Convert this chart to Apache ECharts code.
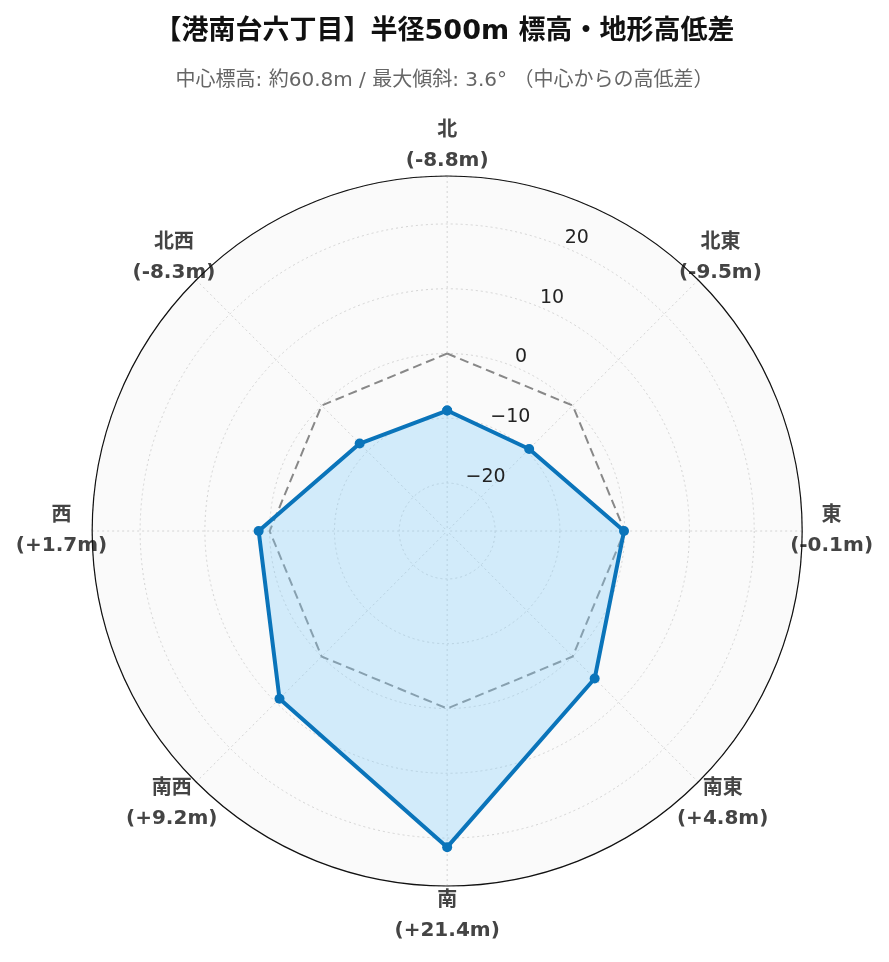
<!DOCTYPE html>
<html><head><meta charset="utf-8">
<script src="https://cdn.jsdelivr.net/npm/echarts@6/dist/echarts.min.js"></script>
<style>html,body{margin:0;padding:0;background:#fff}#c{width:889px;height:962px}</style>
</head><body><div id="c"></div>
<script>
const directions = ['北', '北東', '東', '南東', '南', '南西', '西', '北西'];
const directionAngles = [0, 45, 90, 135, 180, 225, 270, 315];
const elevDiff = [-8.8, -9.5, -0.1, 4.8, 21.4, 9.2, 1.7, -8.3];
const referenceLevel = [0, 0, 0, 0, 0, 0, 0, 0];
const radialTicks = [-20, -10, 0, 10, 20];
const radialRange = [-27.4, 27.4];
const titleText = '【港南台六丁目】半径500m 標高・地形高低差';
const subtitleText = '中心標高: 約60.8m / 最大傾斜: 3.6° （中心からの高低差）';

const font = "'DejaVu Sans', 'Noto Sans CJK JP', sans-serif";

function fmtDiff(v) {
  return '(' + (v > 0 ? '+' : (v < 0 ? '-' : '')) + Math.abs(v).toFixed(1) + 'm)';
}
const labelMap = {};
directions.forEach((d, i) => { labelMap[d] = '{t|' + d + '}\n{t|' + fmtDiff(elevDiff[i]) + '}'; });

// per-label padding [top, right, bottom, left] so each two-line label sits centred on its spoke
const labelPadding = {
  '北': [0, 0, 30, 0], '北東': [0, 0, 13, 2], '東': [0, 0, 0, 18], '南東': [13, 0, 0, 0],
  '南': [30, 0, 0, 0], '南西': [13, 0, 0, 0], '西': [0, 15, 0, 0], '北西': [0, 2, 13, 0]
};

// closed ring: every direction, then back to the first one (at 360°)
function closed(vals) {
  const arr = directionAngles.map((a, i) => [vals[i], a]);
  arr.push([vals[0], 360]);
  return arr;
}

const center = ['50.3%', '55.2%'];
const radius = 355;

const hiddenRadius = pi => ({
  polarIndex: pi, type: 'value', min: radialRange[0], max: radialRange[1], splitNumber: 5,
  axisLine: {show: false}, axisTick: {show: false}, axisLabel: {show: false},
  splitLine: {show: false}, splitArea: {show: false}
});

const chart = echarts.init(document.getElementById('c'), null, {renderer: 'canvas'});
chart.setOption({
  backgroundColor: '#ffffff',
  animation: false,
  title: [
    {text: titleText, left: 'center', top: 13,
     textStyle: {fontFamily: font, fontSize: 27, fontWeight: 'bold', color: '#111'}},
    {text: subtitleText, left: 'center', top: 66,
     textStyle: {fontFamily: font, fontSize: 20, fontWeight: 'normal', color: '#666'}}
  ],
  polar: [
    {center: center, radius: radius},
    {center: center, radius: radius},
    {center: center, radius: radius},
    {center: center, radius: radius}
  ],
  angleAxis: [
    {
      polarIndex: 0, type: 'category', boundaryGap: false,
      data: directions.map(d => ({value: d, textStyle: {padding: labelPadding[d]}})),
      startAngle: 90, clockwise: true,
      axisLine: {show: false},
      axisTick: {show: false},
      splitLine: {show: true, lineStyle: {color: '#d4d4d4', type: [2, 3], width: 1}},
      splitArea: {show: false},
      axisLabel: {
        show: true, margin: -30,
        fontFamily: font, fontSize: 20, fontWeight: 'bold', color: '#444',
        formatter: v => labelMap[v],
        rich: {t: {align: 'center', lineHeight: 30, fontFamily: font, fontSize: 20, fontWeight: 'bold', color: '#444'}}
      },
      z: 2
    },
    {
      polarIndex: 1, type: 'value', min: 0, max: 360, interval: 45,
      startAngle: 67.5, clockwise: true,
      axisLine: {show: false},
      axisTick: {show: false}, axisLabel: {show: false},
      splitLine: {show: false},
      splitArea: {show: true, areaStyle: {color: ['#fafafa']}},
      z: 0
    },
    {
      polarIndex: 2, type: 'value', min: 0, max: 360, interval: 45,
      startAngle: 90, clockwise: true,
      axisLine: {show: true, lineStyle: {color: '#111', width: 1.2}},
      axisTick: {show: false}, axisLabel: {show: false},
      splitLine: {show: false}, splitArea: {show: false},
      z: 6
    },
    {
      polarIndex: 3, type: 'value', min: 0, max: 360, interval: 45,
      startAngle: 67.5, clockwise: true, show: false
    }
  ],
  radiusAxis: [
    hiddenRadius(0),
    {
      polarIndex: 1, type: 'value', min: radialRange[0], max: radialRange[1], splitNumber: 5,
      axisLine: {show: false}, axisTick: {show: false}, axisLabel: {show: false},
      splitLine: {show: true, lineStyle: {color: '#d4d4d4', type: [2, 3], width: 1}},
      splitArea: {show: false},
      z: 1
    },
    hiddenRadius(2),
    {
      polarIndex: 3, type: 'value', min: radialRange[0], max: radialRange[1], splitNumber: 5,
      axisLine: {show: false}, axisTick: {show: false},
      splitLine: {show: false}, splitArea: {show: false},
      axisLabel: {
        show: true, margin: 0, align: 'left', verticalAlign: 'bottom',
        fontFamily: font, fontSize: 19, color: '#222',
        formatter: v => radialTicks.indexOf(Math.round(v * 10) / 10) >= 0 ? String(v).replace('-', '\u2212') : ''
      },
      z: 8
    }
  ],
  series: [
    {
      type: 'line', coordinateSystem: 'polar', polarIndex: 2, clip: false,
      data: closed(elevDiff),
      symbol: 'circle', symbolSize: 10, showSymbol: true,
      lineStyle: {color: '#0a74ba', width: 4},
      itemStyle: {color: '#0a74ba', borderWidth: 0},
      areaStyle: {color: 'rgba(135,206,250,0.35)', opacity: 1, origin: 'start'},
      z: 4
    },
    {
      type: 'line', coordinateSystem: 'polar', polarIndex: 2, clip: false,
      data: closed(referenceLevel),
      symbol: 'none',
      lineStyle: {color: '#888888', width: 2, type: [9, 5]},
      z: 3
    }
  ]
});
</script></body></html>
